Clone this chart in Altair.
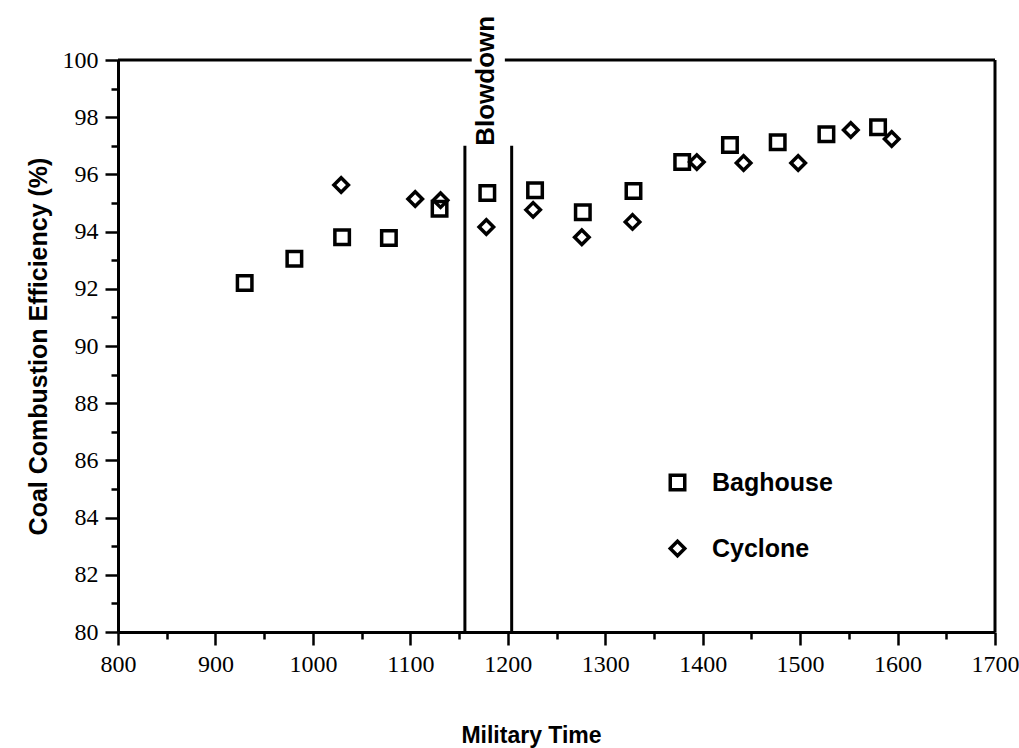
import altair as alt
import pandas as pd

# ---- data ----
bag_x = [930, 981, 1030, 1078, 1130, 1179, 1228, 1277, 1329, 1379, 1428, 1477, 1527, 1580]
bag_y = [92.2, 93.05, 93.8, 93.78, 94.8, 95.35, 95.45, 94.68, 95.42, 96.43, 97.03, 97.12, 97.4, 97.65]
cyc_x = [1029, 1105, 1131, 1178, 1226, 1276, 1328, 1394, 1442, 1498, 1552, 1594]
cyc_y = [95.63, 95.14, 95.1, 94.16, 94.76, 93.8, 94.34, 96.43, 96.4, 96.4, 97.55, 97.24]
series_names = ["Baghouse", "Cyclone"]

x_major = list(range(800, 1701, 100))
x_minor = list(range(850, 1700, 100))
y_major = list(range(80, 101, 2))
y_minor = list(range(81, 100, 2))

# blowdown period boundaries and annotation
blow_start, blow_end, blow_top = 1156, 1204, 97
blow_label = "Blowdown"
blow_label_x = 1178

# frame segments (top border has a gap where the label crosses it)
frame_x = [800, 1197, 1700]
frame_x2 = [1163, 1700, 1700]
frame_y = [100, 100, 80]
frame_y2 = [100, 100, 100]

pts = pd.DataFrame({
    "time": bag_x + cyc_x,
    "eff": bag_y + cyc_y,
    "series": [series_names[0]] * len(bag_x) + [series_names[1]] * len(cyc_x),
})
frame = pd.DataFrame({"x": frame_x + [blow_start, blow_end],
                      "x2": frame_x2 + [blow_start, blow_end],
                      "y": frame_y + [80, 80],
                      "y2": frame_y2 + [blow_top, blow_top]})
ann = pd.DataFrame({"x": [blow_label_x], "y": [blow_top], "t": [blow_label]})

xscale = alt.Scale(domain=[800, 1700], nice=False, zero=False)
yscale = alt.Scale(domain=[80, 100], nice=False, zero=False)

sans = "Liberation Sans"
serif = "Liberation Serif"

common = dict(domainColor="black", domainWidth=3, tickColor="black", tickWidth=2.5, grid=False)

x_axis = alt.Axis(
    values=x_major, format="d", orient="bottom", tickSize=13,
    labelPadding=7, labelFont=serif, labelFontSize=24, labelColor="black",
    title="Military Time", titleFont=sans, titleFontSize=23,
    titleFontWeight="bold", titleColor="black", titleX=413, titleY=103,
    titleBaseline="middle", titleAlign="center", labelFlush=False, **common,
)
y_axis = alt.Axis(
    values=y_major, orient="left", tickSize=13,
    labelPadding=7, labelFont=serif, labelFontSize=24, labelColor="black",
    title="Coal Combustion Efficiency (%)", titleFont=sans,
    titleFontSize=25, titleFontWeight="bold", titleColor="black",
    titleX=-80, titleY=286, titleAngle=-90, titleBaseline="middle",
    titleAlign="center", labelFlush=False, **common,
)
x_axis_minor = alt.Axis(values=x_minor, orient="bottom", tickSize=7, labels=False,
                        domain=False, title=None, tickColor="black", tickWidth=2.5, grid=False)
y_axis_minor = alt.Axis(values=y_minor, orient="left", tickSize=7, labels=False,
                        domain=False, title=None, tickColor="black", tickWidth=2.5, grid=False)

points = alt.Chart(pts).mark_point(filled=False, color="black", strokeWidth=3.5, opacity=1, size=210).encode(
    x=alt.X("time:Q", scale=xscale, axis=x_axis),
    y=alt.Y("eff:Q", scale=yscale, axis=y_axis),
    shape=alt.Shape("series:N", scale=alt.Scale(domain=series_names, range=["square", "diamond"]),
                    legend=alt.Legend(title=None, orient="none", legendX=547, legendY=410,
                                      padding=0, labelFont=sans, labelFontSize=25,
                                      labelFontWeight="bold", labelColor="black",
                                      symbolSize=210, symbolStrokeWidth=3.5,
                                      symbolStrokeColor="black", labelOffset=22,
                                      rowPadding=37)),
)

rules = alt.Chart(frame).mark_rule(color="black", strokeWidth=3).encode(
    x=alt.X("x:Q", scale=xscale, axis=x_axis_minor), x2="x2:Q",
    y=alt.Y("y:Q", scale=yscale, axis=y_axis_minor), y2="y2:Q",
)

label = alt.Chart(ann).mark_text(angle=270, align="left", baseline="middle", font=sans,
                                 fontSize=26, fontWeight="bold", color="black").encode(
    x=alt.X("x:Q", scale=xscale, axis=None), y=alt.Y("y:Q", scale=yscale, axis=None), text="t:N",
)

chart = alt.layer(rules, points, label).resolve_axis(x="independent", y="independent").properties(
    width=877, height=572,
    autosize=alt.AutoSizeParams(type="none"),
    padding={"left": 118, "top": 60, "right": 24, "bottom": 116},
    background="white",
).configure_view(stroke=None)

chart.save("out.html", embed_options={"renderer": "svg", "actions": False})
